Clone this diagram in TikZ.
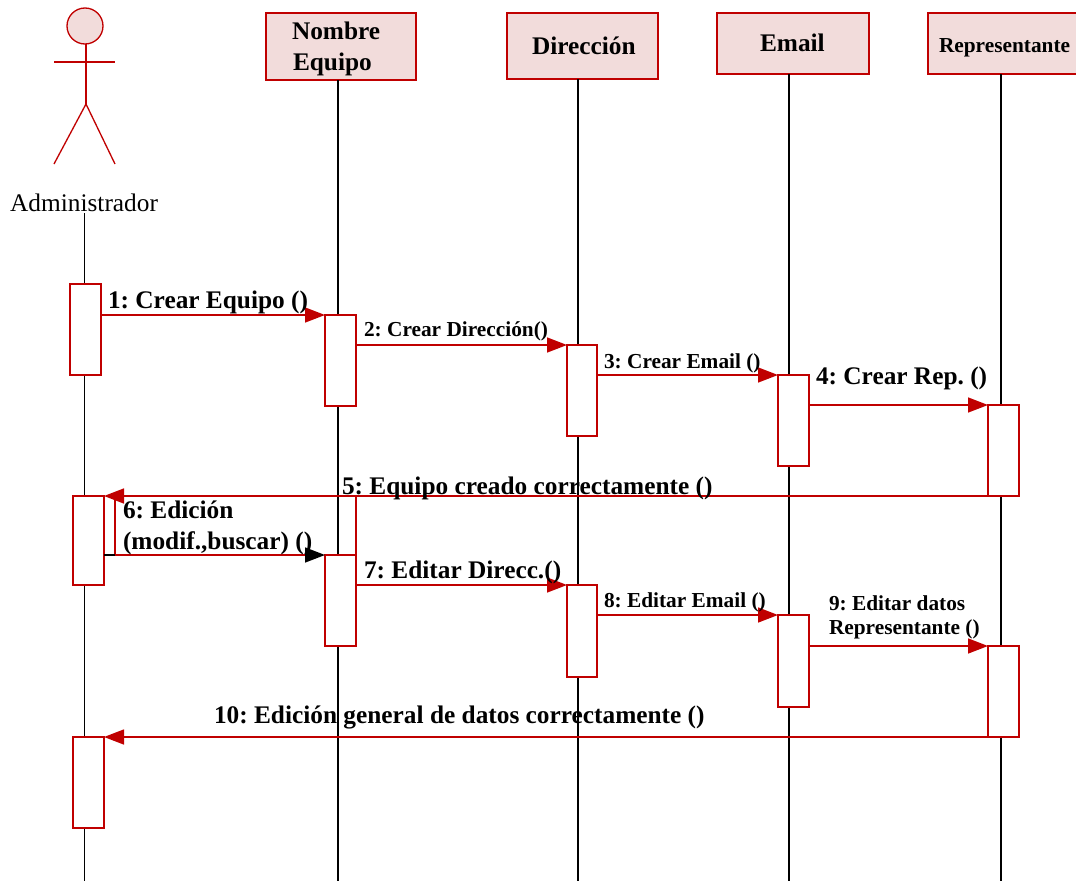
\documentclass[tikz,border=0pt]{standalone}
\usepackage{fontspec}
\setmainfont{Liberation Serif}
\usetikzlibrary{arrows.meta,calc}
\definecolor{umlred}{HTML}{C00000}
\definecolor{umlfill}{HTML}{F2DCDB}
\newcommand{\fsz}[1]{\fontsize{#1}{#1}\selectfont\frenchspacing}
\tikzset{
  x=1pt,y=-1pt,
  headbox/.style={draw=umlred,fill=umlfill,line width=1.5pt,inner sep=0pt,outer sep=0pt},
  actbox/.style={draw=umlred,fill=white,line width=1.2pt,inner sep=0pt,outer sep=0pt,minimum width=#1},
  life/.style={draw=black,line width=1.2pt},
  msg/.style={draw=umlred,line width=1.5pt,-{Triangle[length=20pt,width=15pt,color=umlred]}},
  txt/.style={anchor=base west,inner sep=0pt,outer sep=0pt,font=\bfseries\fsz{#1}},
  actorline/.style={draw=umlred,line width=1.3pt}
}
\newcommand{\mkbox}[6]{\node[#6,minimum width=#4pt-#2pt,minimum height=#5pt-#3pt,anchor=north west] (#1) at (#2,#3) {};}
\begin{document}
\begin{tikzpicture}
\useasboundingbox (0,0) rectangle (1076,881);
% lifeline ends
\coordinate (endA) at (84.5,881);
\coordinate (endN) at (338,881);
\coordinate (endD) at (578,881);
\coordinate (endE) at (789,881);
\coordinate (endR) at (1001,881);
\coordinate (startA) at (84.5,213);
% header boxes
\node[headbox,minimum width=150pt,minimum height=67pt,anchor=north west] (hN) at (266,13) {};
\node[headbox,minimum width=151pt,minimum height=66pt,anchor=north west] (hD) at (507,13) {};
\node[headbox,minimum width=152pt,minimum height=61pt,anchor=north west] (hE) at (717,13) {};
\node[headbox,minimum width=150pt,minimum height=61pt,anchor=north west] (hR) at (928,13) {};
% lifelines
\draw[life] (startA) -- (endA);
\draw[life] (338,80) -- (endN);
\draw[life] (578,79) -- (endD);
\draw[life] (789,74) -- (endE);
\draw[life] (1001,74) -- (endR);
% actor
\node[circle,draw=umlred,fill=umlfill,line width=1.3pt,minimum size=36pt,inner sep=0pt,outer sep=0pt] (head) at (85,26) {};
\coordinate (hip) at (86,104);
\draw[actorline] (head.south -| hip) -- (hip);
\draw[actorline] (54,62) -- (115,62);
\draw[actorline] (54,164) -- (hip) -- (115,164);
\node[anchor=base west,inner sep=0pt,font=\fsz{25.33}] (lblA) at (10,211) {Administrador};
% frame of message 6
\coordinate (f6a) at (115,496);
\coordinate (f6b) at (356,555);
\draw[draw=umlred,line width=1.3pt] (f6a) -- (f6a |- f6b) (f6b |- f6a) -- (f6b);
% activations
\mkbox{a1}{70}{284}{101}{375}{actbox}
\mkbox{n1}{325}{315}{356}{406}{actbox}
\mkbox{d1}{567}{345}{597}{436}{actbox}
\mkbox{e1}{778}{375}{809}{466}{actbox}
\mkbox{r1}{988}{405}{1019}{496}{actbox}
\mkbox{a2}{73}{496}{104}{585}{actbox}
\mkbox{n2}{325}{555}{356}{646}{actbox}
\mkbox{d2}{567}{585}{597}{677}{actbox}
\mkbox{e2}{778}{615}{809}{707}{actbox}
\mkbox{r2}{988}{646}{1019}{737}{actbox}
\mkbox{a3}{73}{737}{104}{828}{actbox}
% messages
\draw[msg] (a1.east |- n1.north west) -- (n1.north west);
\draw[msg] (n1.east |- d1.north west) -- (d1.north west);
\draw[msg] (d1.east |- e1.north west) -- (e1.north west);
\draw[msg] (e1.east |- r1.north west) -- (r1.north west);
\draw[msg] (r1.south east) -- (a2.north east);
\draw[draw=black,line width=1.3pt] (a2.east |- n2.north west) -- (f6a |- n2.north west);
\draw[draw=umlred,line width=1.5pt,-{Triangle[length=20pt,width=15pt,color=black]}] (f6a |- n2.north west) -- (n2.north west);
\draw[draw=umlred,line width=1.3pt] (n2.north west) -- (n2.north east);
\draw[msg] (n2.east |- d2.north west) -- (d2.north west);
\draw[msg] (d2.east |- e2.north west) -- (e2.north west);
\draw[msg] (e2.east |- r2.north west) -- (r2.north west);
\draw[msg] (r2.south east) -- (a3.north east);
% header text
\node[txt=25.33] (tN1) at (292,39) {Nombre};
\node[txt=25.33] (tN2) at (293,70) {Equipo};
\node[txt=25.33] (tD) at (532,54) {Dirección};
\node[txt=25.33] (tE) at (760,51) {Email};
\node[txt=21.33] (tR) at (939,52) {Representante};
% message text
\node[txt=25.33] (m1) at (108,308) {1: Crear Equipo ()};
\node[txt=21.33] (m2) at (364,336) {2: Crear Dirección()};
\node[txt=21.33] (m3) at (604,368) {3: Crear Email ()};
\node[txt=25.33] (m4) at (816,384) {4: Crear Rep. ()};
\node[txt=25.33] (m5) at (342,494) {5: Equipo creado correctamente ()};
\node[txt=25.33] (m6a) at (123,518) {6: Edición};
\node[txt=25.33] (m6b) at (123,549) {(modif.,buscar) ()};
\node[txt=25.33] (m7) at (364,578) {7: Editar Direcc.()};
\node[txt=21.33] (m8) at (604,607) {8: Editar Email ()};
\node[txt=21.33] (m9a) at (829,610) {9: Editar datos};
\node[txt=21.33] (m9b) at (829,634) {Representante ()};
\node[txt=25.33] (m10) at (214,723) {10: Edición general de datos correctamente ()};
\end{tikzpicture}
\end{document}
